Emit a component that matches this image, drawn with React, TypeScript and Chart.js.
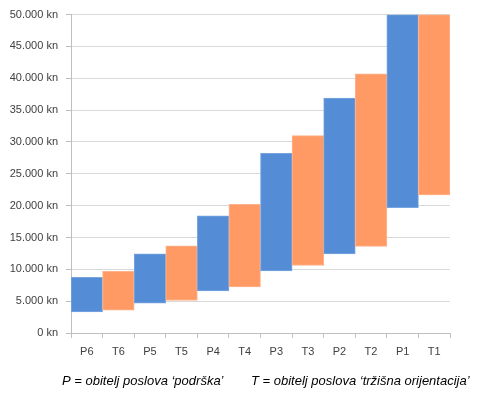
import React, { useEffect, useRef } from "react";
import { Chart, registerables } from "chart.js";

Chart.register(...registerables);

const categories = ["P6", "T6", "P5", "T5", "P4", "T4", "P3", "T3", "P2", "T2", "P1", "T1"];
const lowValues = [3300, 3600, 4700, 5100, 6600, 7250, 9750, 10600, 12400, 13600, 19700, 21700];
const highValues = [8750, 9700, 12450, 13700, 18400, 20200, 28200, 31000, 36900, 40700, 50000, 50000];
const footerP = "P = obitelj poslova \u2018podr\u0161ka\u2019";
const footerT = "T = obitelj poslova \u2018tr\u017Ei\u0161na orijentacija\u2019";

const BLUE = "#548CD5";
const BLUE_EDGE = "#79A6E0";
const ORANGE = "#FF9A65";
const ORANGE_EDGE = "#FFB28C";

function fmt(v: number): string {
  return String(v).replace(/\B(?=(\d{3})+(?!\d))/g, ".") + " kn";
}

export default function App() {
  const ref = useRef<HTMLCanvasElement | null>(null);
  useEffect(() => {
    if (!ref.current) return;
    const footerPlugin = {
      id: "footerText",
      afterDraw(chart: any) {
        const ctx = chart.ctx;
        ctx.save();
        ctx.font = 'italic 13px "Liberation Sans", Arial, sans-serif';
        ctx.fillStyle = "#000000";
        ctx.textBaseline = "middle";
        ctx.textAlign = "left";
        ctx.fillText(footerP, 62, 381);
        ctx.fillText(footerT, 251, 381);
        ctx.restore();
      },
    };
    const chart = new Chart(ref.current, {
      type: "bar",
      data: {
        labels: categories,
        datasets: [
          {
            data: categories.map((_, i) => [lowValues[i], highValues[i]]) as any,
            backgroundColor: categories.map((c) => (c[0] === "P" ? BLUE : ORANGE)),
            borderColor: categories.map((c) => (c[0] === "P" ? BLUE_EDGE : ORANGE_EDGE)),
            borderWidth: 1,
            borderSkipped: false,
            barPercentage: 1,
            categoryPercentage: 1,
          },
        ],
      },
      options: {
        animation: false,
        responsive: false,
        maintainAspectRatio: false,
        layout: { padding: { top: 13, right: 50, left: 0, bottom: 0 } },
        plugins: {
          legend: { display: false },
          tooltip: { enabled: false },
          title: { display: false },
        },
        scales: {
          x: {
            offset: true,
            grid: {
              offset: true,
              drawOnChartArea: false,
              drawTicks: true,
              tickLength: 5,
              color: "#BFBFBF",
            },
            border: { color: "#BFBFBF" },
            ticks: {
              color: "#404040",
              font: { family: '"Liberation Sans", Arial, sans-serif', size: 11 },
              padding: 7,
              maxRotation: 0,
            },
            afterFit(scale: any) {
              scale.height = 65;
            },
          },
          y: {
            min: 0,
            max: 50000,
            ticks: {
              stepSize: 5000,
              color: "#404040",
              font: { family: '"Liberation Sans", Arial, sans-serif', size: 11 },
              padding: 8,
              callback: (v: any) => fmt(Number(v)),
            },
            grid: { color: "#D9D9D9", tickLength: 5, tickColor: "#BFBFBF" },
            border: { color: "#BFBFBF" },
            afterFit(scale: any) {
              scale.width = 71;
            },
          },
        },
      },
      plugins: [footerPlugin],
    });
    return () => chart.destroy();
  }, []);
  return (
    <div style={{ position: "absolute", left: 0, top: 0, width: 500, height: 398, background: "#fff" }}>
      <canvas ref={ref} width={500} height={398} style={{ width: 500, height: 398 }} />
    </div>
  );
}
